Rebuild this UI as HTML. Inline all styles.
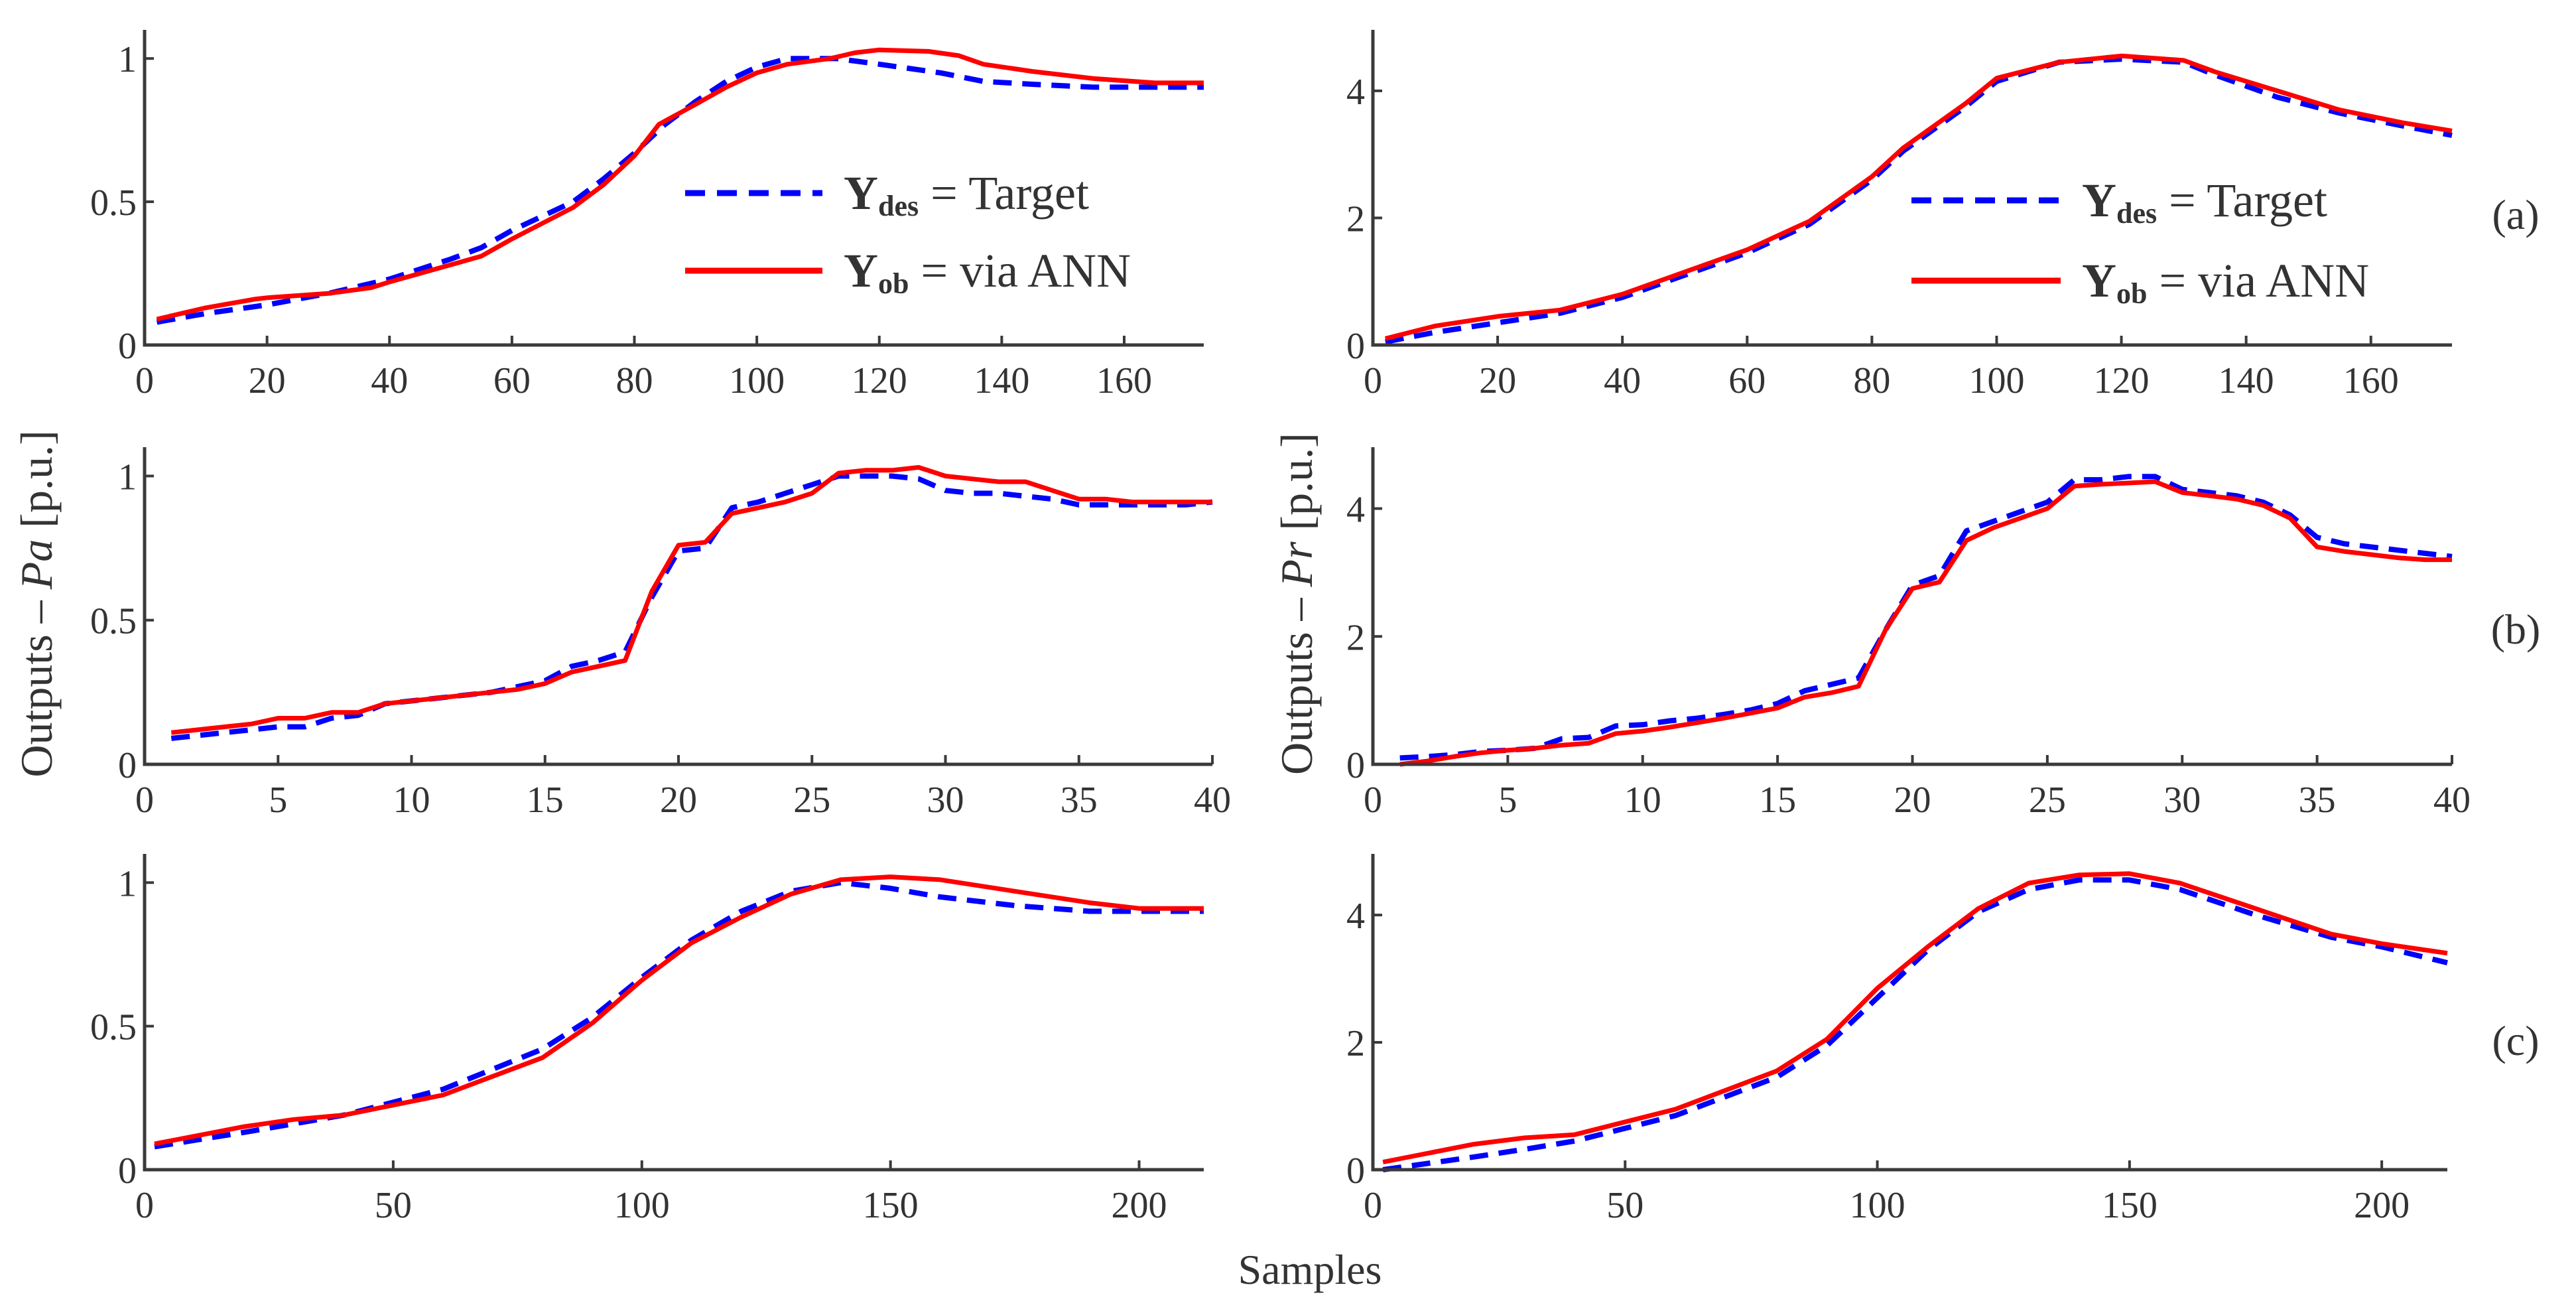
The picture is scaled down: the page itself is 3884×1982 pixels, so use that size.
<!DOCTYPE html>
<html><head><meta charset="utf-8"><style>
html,body{margin:0;padding:0;background:#fff;}
svg text{font-family:"Liberation Serif",serif;fill:#333;}
</style></head><body>
<svg id="fig" width="3884" height="1977" viewBox="0 0 3884 1977" xmlns="http://www.w3.org/2000/svg">
<g id="root"></g>
<text x="78" y="910" font-size="68" text-anchor="middle" transform="rotate(-90 78 910)">Outputs – <tspan font-style="italic">Pa</tspan> [p.u.]</text>
<text x="1978" y="910" font-size="68" text-anchor="middle" transform="rotate(-90 1978 910)">Outputs – <tspan font-style="italic">Pr</tspan> [p.u.]</text>
<text x="1975" y="1935" font-size="64" text-anchor="middle">Samples</text>
<text x="3793" y="345" font-size="64" text-anchor="middle">(a)</text>
<text x="3793" y="970" font-size="64" text-anchor="middle">(b)</text>
<text x="3793" y="1590" font-size="64" text-anchor="middle">(c)</text>
</svg>
<script>
// Panel (a)
const aPaTx=[2,10,20,30,40,50,55,60,70,75,80,85,90,95,100,105,110,113,120,130,137,145,155,165,173];
const aPaTy=[0.08,0.11,0.14,0.18,0.23,0.3,0.34,0.4,0.5,0.58,0.67,0.77,0.85,0.92,0.97,1.0,1.0,1.0,0.98,0.95,0.92,0.91,0.9,0.9,0.9];
const aPaOx=[2,10,18,20,30,37,40,50,55,60,70,75,80,84,90,95,100,105,112,116,120,128,133,137,145,155,165,173];
const aPaOy=[0.09,0.13,0.16,0.165,0.18,0.2,0.22,0.28,0.31,0.37,0.48,0.56,0.66,0.77,0.84,0.9,0.95,0.98,1.0,1.02,1.03,1.025,1.01,0.98,0.955,0.93,0.915,0.915];
const aPrX=[2,10,20,30,40,50,60,70,80,85,90,95,100,110,120,130,135,145,155,165,173];
const aPrT=[0.05,0.2,0.35,0.5,0.75,1.1,1.45,1.9,2.6,3.05,3.4,3.75,4.15,4.45,4.5,4.45,4.25,3.9,3.65,3.45,3.3];
const aPrO=[0.1,0.3,0.45,0.55,0.8,1.15,1.5,1.95,2.65,3.1,3.45,3.8,4.2,4.45,4.55,4.48,4.3,4.0,3.7,3.5,3.37];
// Panel (b)
const bX=[1,2,3,4,5,6,7,8,9,10,11,12,13,14,15,16,17,18,19,20,21,22,23,24,25,26,27,28,29,30,31,32,33,34,35,36,37,38,39,40];
const bPaT=[0.09,0.1,0.11,0.12,0.13,0.13,0.16,0.17,0.21,0.22,0.23,0.24,0.25,0.27,0.29,0.34,0.36,0.39,0.58,0.74,0.75,0.89,0.91,0.94,0.97,1.0,1.0,1.0,0.99,0.95,0.94,0.94,0.93,0.92,0.9,0.9,0.9,0.9,0.9,0.91];
const bPaO=[0.11,0.12,0.13,0.14,0.16,0.16,0.18,0.18,0.21,0.22,0.23,0.24,0.25,0.26,0.28,0.32,0.34,0.36,0.6,0.76,0.77,0.87,0.89,0.91,0.94,1.01,1.02,1.02,1.03,1.0,0.99,0.98,0.98,0.95,0.92,0.92,0.91,0.91,0.91,0.91];
const bPrT=[0.1,0.12,0.15,0.2,0.22,0.25,0.4,0.42,0.6,0.62,0.68,0.72,0.78,0.85,0.95,1.15,1.25,1.35,2.1,2.8,2.95,3.65,3.8,3.95,4.1,4.45,4.45,4.5,4.5,4.3,4.25,4.2,4.1,3.9,3.55,3.45,3.4,3.35,3.3,3.25];
const bPrO=[0.0,0.05,0.12,0.18,0.22,0.25,0.3,0.33,0.48,0.52,0.58,0.65,0.72,0.8,0.88,1.05,1.12,1.22,2.1,2.75,2.85,3.5,3.7,3.85,4.0,4.35,4.38,4.4,4.42,4.25,4.2,4.15,4.05,3.85,3.4,3.33,3.28,3.23,3.2,3.2];
// Panel (c)
const cX=[2,20,30,40,60,80,90,100,110,120,130,140,150,160,175,190,200,213];
const cPaT=[0.08,0.13,0.16,0.19,0.28,0.42,0.53,0.67,0.8,0.9,0.97,1.0,0.98,0.95,0.92,0.9,0.9,0.9];
const cPaO=[0.09,0.15,0.175,0.19,0.26,0.39,0.51,0.66,0.79,0.88,0.96,1.01,1.02,1.01,0.97,0.93,0.91,0.91];
const cPrT=[0.0,0.2,0.32,0.45,0.85,1.45,1.95,2.7,3.45,4.05,4.4,4.55,4.55,4.4,4.0,3.65,3.5,3.25];
const cPrO=[0.12,0.4,0.5,0.55,0.95,1.55,2.05,2.85,3.5,4.1,4.5,4.63,4.65,4.5,4.1,3.7,3.55,3.4];
// ticks
const ticksA=[0,20,40,60,80,100,120,140,160];
const ticksB=[0,5,10,15,20,25,30,35,40];
const ticksC=[0,50,100,150,200];
const ticksPa=[0,0.5,1];
const ticksPr=[0,2,4];
const tickPaLabels=["0","0.5","1"];
const tickPrLabels=["0","2","4"];

const NS="http://www.w3.org/2000/svg";
const root=document.getElementById('root');
function mk(tag,attrs,parent){const e=document.createElementNS(NS,tag);for(const k in attrs)e.setAttribute(k,attrs[k]);(parent||root).appendChild(e);return e;}

function panel(name,L,R,T,B,xmax,ymax,xt,yt,ylab,series,legend){
  const g=mk('g',{});
  
  
  const sx=v=>L+(v/xmax)*(R-L);
  const sy=v=>B-(v/ymax)*(B-T);
  series.forEach(s=>{
    const d=s.x.map((v,i)=>(i?'L':'M')+sx(v).toFixed(1)+' '+sy(s.y[i]).toFixed(1)).join(' ');
    const p=mk('path',{d:d,fill:'none',stroke:s.c,'stroke-width':s.w,'stroke-dasharray':s.dash||'none','stroke-linejoin':'round'},g);
    
    
  });
  const ax=mk('path',{d:`M${L} ${T} L${L} ${B} L${R} ${B}`,fill:'none',stroke:'#3a3a3a','stroke-width':5},g);
  
  
  xt.forEach(v=>{
    const x=sx(v);
    const t=mk('line',{x1:x,y1:B,x2:x,y2:B-14,stroke:'#3a3a3a','stroke-width':4},g);
    
    
    const tx=mk('text',{x:x,y:B+72,'font-size':56,'text-anchor':'middle'},g);
    
    
    tx.textContent=String(v);
  });
  yt.forEach((v,i)=>{
    const y=sy(v);
    const t=mk('line',{x1:L,y1:y,x2:L+14,y2:y,stroke:'#3a3a3a','stroke-width':4},g);
    
    
    const tx=mk('text',{x:L-12,y:y+20,'font-size':56,'text-anchor':'end'},g);
    
    
    tx.textContent=ylab[i];
  });
  if(legend){
    const [lx1,lx2,ly1,ly2]=legend;
    const l1=mk('line',{x1:lx1,y1:ly1,x2:lx2,y2:ly1,stroke:'#0000ff','stroke-width':9,'stroke-dasharray':'30 18'},g);
    
    
    const t1=mk('text',{x:lx2+32,y:ly1+24,'font-size':72},g);
    
    
    t1.innerHTML='<tspan font-weight="bold">Y</tspan><tspan font-weight="bold" font-size="44" dy="10">des</tspan><tspan dy="-10"> = Target</tspan>';
    const l2=mk('line',{x1:lx1,y1:ly2,x2:lx2,y2:ly2,stroke:'#ff0000','stroke-width':9},g);
    
    
    const t2=mk('text',{x:lx2+32,y:ly2+24,'font-size':72},g);
    
    
    t2.innerHTML='<tspan font-weight="bold">Y</tspan><tspan font-weight="bold" font-size="44" dy="10">ob</tspan><tspan dy="-10"> = via ANN</tspan>';
  }
}
const BL='#0000ff',RD='#ff0000',DS='28 16';
panel('panel-a-pa',218,1815,45,520,173,1.1,ticksA,ticksPa,tickPaLabels,[
 {x:aPaTx,y:aPaTy,c:BL,w:8,dash:DS,n:'series-target-a-pa'},{x:aPaOx,y:aPaOy,c:RD,w:7,n:'series-ann-a-pa'}],[1033,1240,291,408]);
panel('panel-a-pr',2070,3697,45,520,173,4.96,ticksA,ticksPr,tickPrLabels,[
 {x:aPrX,y:aPrT,c:BL,w:8,dash:DS,n:'series-target-a-pr'},{x:aPrX,y:aPrO,c:RD,w:7,n:'series-ann-a-pr'}],[2882,3107,302,423]);
panel('panel-b-pa',218,1828,674,1152,40,1.1,ticksB,ticksPa,tickPaLabels,[
 {x:bX,y:bPaT,c:BL,w:8,dash:DS,n:'series-target-b-pa'},{x:bX,y:bPaO,c:RD,w:7,n:'series-ann-b-pa'}],null);
panel('panel-b-pr',2070,3697,674,1152,40,4.96,ticksB,ticksPr,tickPrLabels,[
 {x:bX,y:bPrT,c:BL,w:8,dash:DS,n:'series-target-b-pr'},{x:bX,y:bPrO,c:RD,w:7,n:'series-ann-b-pr'}],null);
panel('panel-c-pa',218,1815,1287,1763,213,1.1,ticksC,ticksPa,tickPaLabels,[
 {x:cX,y:cPaT,c:BL,w:8,dash:DS,n:'series-target-c-pa'},{x:cX,y:cPaO,c:RD,w:7,n:'series-ann-c-pa'}],null);
panel('panel-c-pr',2070,3690,1287,1763,213,4.96,ticksC,ticksPr,tickPrLabels,[
 {x:cX,y:cPrT,c:BL,w:8,dash:DS,n:'series-target-c-pr'},{x:cX,y:cPrO,c:RD,w:7,n:'series-ann-c-pr'}],null);
</script>
</body></html>
